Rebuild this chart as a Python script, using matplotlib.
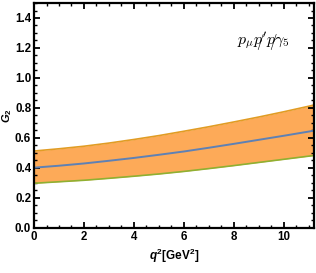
import matplotlib.pyplot as plt
from matplotlib.ticker import MultipleLocator
from matplotlib.transforms import offset_copy

q2 = [0, 1, 2, 3, 4, 5, 6, 7, 8, 9, 10, 11, 11.2]
upper = [0.513, 0.528, 0.545, 0.566, 0.590, 0.616, 0.645, 0.675, 0.707, 0.740, 0.775, 0.812, 0.820]
central = [0.402, 0.415, 0.430, 0.448, 0.467, 0.488, 0.510, 0.535, 0.561, 0.588, 0.615, 0.643, 0.649]
lower = [0.298, 0.308, 0.318, 0.331, 0.345, 0.360, 0.377, 0.396, 0.416, 0.437, 0.458, 0.479, 0.483]

plt.rcParams['mathtext.fontset'] = 'custom'
plt.rcParams['mathtext.rm'] = 'Liberation Sans:bold'
plt.rcParams['mathtext.it'] = 'Liberation Sans:italic:bold'
plt.rcParams['mathtext.bf'] = 'Liberation Sans:bold'
fig = plt.figure(figsize=(3.16, 2.73), dpi=100)
ax = fig.add_axes([0.1076, 0.165, 0.886, 0.824])

ax.fill_between(q2, lower, upper, color='#FDAA58', lw=0)
ax.plot(q2, upper, color='#E19C24', lw=1.2)
ax.plot(q2, central, color='#5E81B5', lw=1.4)
ax.plot(q2, lower, color='#8FB032', lw=1.2)

ax.set_xlim(0, 11.2)
ax.set_ylim(0, 1.5)
ax.xaxis.set_major_locator(MultipleLocator(2))
ax.xaxis.set_minor_locator(MultipleLocator(0.5))
ax.yaxis.set_minor_locator(MultipleLocator(0.05))
ax.set_yticks([0, 0.2, 0.4, 0.6, 0.8, 1.0, 1.2, 1.4])
ax.set_yticklabels(['0.0', '0.2', '0.4', '0.6', '0.8', '1.0', '1.2', '1.4'])

for s in ax.spines.values():
    s.set_linewidth(1.6)
ax.tick_params(which='both', direction='in', top=True, right=True, labelsize=8.3, pad=2)
ax.tick_params(which='major', length=4, width=1.3)
ax.tick_params(which='minor', length=2.2, width=1.0)
for lab in ax.get_xticklabels() + ax.get_yticklabels():
    lab.set_fontfamily('Liberation Sans')
    lab.set_fontweight('bold')

ax.set_xlabel(r'$q^2$[GeV$^2$]', fontsize=8.5,
              fontfamily='Liberation Sans', fontweight='bold', labelpad=3)
ax.set_ylabel(r'$G_2$', fontsize=8, labelpad=1)

# p_mu pslash' pslash gamma_5 : draw the letters, then put slashes over the two p's
kw = dict(fontsize=11.5, ha='left', va='baseline', math_fontfamily='cm')
x0, y0 = 8.12, 1.227
ax.text(x0, y0, r"$p_\mu p' p\gamma_5$", **kw)
r = fig.canvas.get_renderer()
def width(s):
    t = ax.text(x0, y0, s, **kw)
    w = t.get_window_extent(r).width
    t.remove()
    return w
wp = width(r"$p$")
for pre in [r"$p_\mu$", r"$p_\mu p'$"]:
    dx = width(pre) + wp * 0.55
    tr = offset_copy(ax.transData, fig=fig, x=dx * 72 / fig.dpi, y=-1.5, units='points')
    ax.text(x0, y0, r"$/$", transform=tr, fontsize=10.5, ha='center',
            va='baseline', math_fontfamily='cm')

fig.savefig('out.png', dpi=100)
